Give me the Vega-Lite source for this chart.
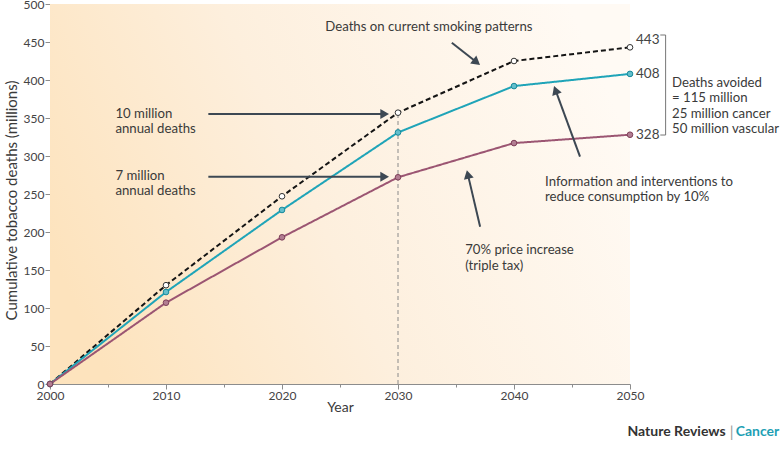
{
  "$schema": "https://vega.github.io/schema/vega-lite/v6.json",
  "width": 580,
  "height": 380,
  "autosize": {"type": "none"},
  "padding": {"left": 50, "top": 4, "right": 150, "bottom": 84},
  "config": {
    "view": {"stroke": null},
    "font": "Lato",
    "axis": {
      "labelFont": "Lato",
      "titleFont": "Lato",
      "labelColor": "#444444",
      "titleColor": "#3a3a3a",
      "domainColor": "#8c8c8c",
      "tickColor": "#8c8c8c",
      "labelFontSize": 12,
      "titleFontSize": 14,
      "titleFontWeight": "normal",
      "labelOverlap": false,
      "grid": false
    }
  },
  "datasets": {
    "deaths": [
      {"year": 2000, "scenario": "Current smoking patterns", "deaths": 0},
      {"year": 2010, "scenario": "Current smoking patterns", "deaths": 130},
      {"year": 2020, "scenario": "Current smoking patterns", "deaths": 247},
      {"year": 2030, "scenario": "Current smoking patterns", "deaths": 357},
      {"year": 2040, "scenario": "Current smoking patterns", "deaths": 425},
      {"year": 2050, "scenario": "Current smoking patterns", "deaths": 443},
      {"year": 2000, "scenario": "Information and interventions", "deaths": 0},
      {"year": 2010, "scenario": "Information and interventions", "deaths": 121},
      {"year": 2020, "scenario": "Information and interventions", "deaths": 229},
      {"year": 2030, "scenario": "Information and interventions", "deaths": 331},
      {"year": 2040, "scenario": "Information and interventions", "deaths": 392},
      {"year": 2050, "scenario": "Information and interventions", "deaths": 408},
      {"year": 2000, "scenario": "Price increase", "deaths": 0},
      {"year": 2010, "scenario": "Price increase", "deaths": 107},
      {"year": 2020, "scenario": "Price increase", "deaths": 193},
      {"year": 2030, "scenario": "Price increase", "deaths": 272},
      {"year": 2040, "scenario": "Price increase", "deaths": 317},
      {"year": 2050, "scenario": "Price increase", "deaths": 328}
    ],
    "notes": [
      {"x": 2023.73, "y": 469.7, "label": "Deaths on current smoking patterns"},
      {"x": 2005.64, "y": 355.9, "label": "10 million\nannual deaths"},
      {"x": 2005.64, "y": 273.7, "label": "7 million\nannual deaths"},
      {"x": 2035.79, "y": 176.1, "label": "70% price increase\n(triple tax)"},
      {"x": 2042.68, "y": 266.2, "label": "Information and interventions to\nreduce consumption by 10%"},
      {"x": 2053.62, "y": 396.1, "label": "Deaths avoided\n= 115 million\n25 million cancer\n50 million vascular"}
    ],
    "arrows": [
      {"x": 2034.64, "y": 449.1, "x2": 2036.78, "y2": 423.4, "angle": 128},
      {"x": 2013.65, "y": 355.3, "x2": 2028.85, "y2": 355.3, "angle": 90},
      {"x": 2013.65, "y": 272.8, "x2": 2028.85, "y2": 272.8, "angle": 90},
      {"x": 2037.08, "y": 207.0, "x2": 2036.02, "y2": 275.8, "angle": 347},
      {"x": 2045.69, "y": 299.1, "x2": 2043.58, "y2": 386.6, "angle": 340}
    ],
    "bracket": [
      {"x": 2053.07, "y": 459.2, "x2": 2053.07, "y2": 327.6},
      {"x": 2052.61, "y": 459.2, "x2": 2053.07, "y2": 459.2},
      {"x": 2052.61, "y": 327.6, "x2": 2053.07, "y2": 327.6}
    ],
    "single": [{}]
  },
  "layer": [
    {
      "data": {"name": "single"},
      "mark": {
        "type": "rect",
        "fill": {
          "gradient": "linear",
          "x1": 0, "y1": 0.65, "x2": 1, "y2": 0.35,
          "stops": [
            {"offset": 0, "color": "#fde3bd"},
            {"offset": 0.45, "color": "#fdefdd"},
            {"offset": 1, "color": "#fffaf4"}
          ]
        }
      },
      "encoding": {
        "x": {"datum": 2000, "type": "quantitative"},
        "x2": {"datum": 2050},
        "y": {"datum": 0, "type": "quantitative"},
        "y2": {"datum": 500}
      }
    },
    {
      "data": {"name": "single"},
      "mark": {"type": "rule", "color": "#8a8a8a", "strokeWidth": 1, "strokeDash": [4, 3]},
      "encoding": {
        "x": {"datum": 2030, "type": "quantitative"},
        "y": {"datum": 0, "type": "quantitative"},
        "y2": {"datum": 357}
      }
    },
    {
      "data": {"name": "deaths"},
      "mark": {"type": "line", "strokeWidth": 2},
      "encoding": {
        "x": {
          "field": "year",
          "type": "quantitative",
          "scale": {"domain": [2000, 2050], "nice": false, "zero": false},
          "axis": {
            "title": "Year",
            "values": [2000, 2005, 2010, 2015, 2020, 2025, 2030, 2035, 2040, 2045, 2050],
            "tickCount": 20,
            "format": "d",
            "labelExpr": "datum.value % 10 === 0 ? datum.label : ''",
            "tickSize": {"condition": {"test": "datum.value % 10 === 0", "value": 5}, "value": 3},
            "labelPadding": 1,
            "labelFlush": false,
            "titleX": 290,
            "titleY": 23,
            "titleBaseline": "middle",
            "titleAlign": "center"
          }
        },
        "y": {
          "field": "deaths",
          "type": "quantitative",
          "scale": {"domain": [0, 500], "nice": false},
          "axis": {
            "title": "Cumulative tobacco deaths (millions)",
            "values": [0, 50, 100, 150, 200, 250, 300, 350, 400, 450, 500],
            "tickCount": 20,
            "labelOverlap": false,
            "tickSize": 5,
            "labelPadding": 1,
            "labelFlush": false,
            "titleFontSize": 15,
            "titleX": -39,
            "titleY": 196,
            "titleAlign": "center",
            "titleBaseline": "middle",
            "titleAngle": -90
          }
        },
        "color": {
          "field": "scenario",
          "type": "nominal",
          "scale": {
            "domain": ["Current smoking patterns", "Information and interventions", "Price increase"],
            "range": ["#141414", "#1fa4b8", "#9b5572"]
          },
          "legend": null
        },
        "strokeDash": {
          "field": "scenario",
          "type": "nominal",
          "scale": {
            "domain": ["Current smoking patterns", "Information and interventions", "Price increase"],
            "range": [[5, 3], [1, 0], [1, 0]]
          },
          "legend": null
        },
        "order": {"field": "year"}
      }
    },
    {
      "data": {"name": "deaths"},
      "mark": {"type": "point", "shape": "circle", "filled": true, "size": 32, "strokeWidth": 1, "opacity": 1},
      "encoding": {
        "x": {"field": "year", "type": "quantitative"},
        "y": {"field": "deaths", "type": "quantitative"},
        "fill": {
          "field": "scenario",
          "type": "nominal",
          "scale": {
            "domain": ["Current smoking patterns", "Information and interventions", "Price increase"],
            "range": ["#ffffff", "#62bfcc", "#b27d92"]
          },
          "legend": null
        },
        "stroke": {
          "field": "scenario",
          "type": "nominal",
          "scale": {
            "domain": ["Current smoking patterns", "Information and interventions", "Price increase"],
            "range": ["#333333", "#17899b", "#7e4059"]
          },
          "legend": null
        }
      }
    },
    {
      "data": {"name": "deaths"},
      "transform": [{"filter": "datum.year === 2050 && datum.deaths < 440"}],
      "mark": {"type": "text", "align": "left", "baseline": "middle", "dx": 6, "fontSize": 13.5, "color": "#444444"},
      "encoding": {
        "x": {"field": "year", "type": "quantitative"},
        "y": {"field": "deaths", "type": "quantitative"},
        "text": {"field": "deaths", "type": "quantitative"}
      }
    },
    {
      "data": {"name": "deaths"},
      "transform": [{"filter": "datum.year === 2050 && datum.deaths >= 440"}],
      "mark": {"type": "text", "align": "left", "baseline": "middle", "dx": 6, "dy": -7, "fontSize": 13.5, "color": "#444444"},
      "encoding": {
        "x": {"field": "year", "type": "quantitative"},
        "y": {"field": "deaths", "type": "quantitative"},
        "text": {"field": "deaths", "type": "quantitative"}
      }
    },
    {
      "data": {"name": "bracket"},
      "mark": {"type": "rule", "color": "#777777", "strokeWidth": 1},
      "encoding": {
        "x": {"field": "x", "type": "quantitative"},
        "y": {"field": "y", "type": "quantitative"},
        "x2": {"field": "x2"},
        "y2": {"field": "y2"}
      }
    },
    {
      "data": {"name": "arrows"},
      "mark": {"type": "rule", "color": "#3d4853", "strokeWidth": 2},
      "encoding": {
        "x": {"field": "x", "type": "quantitative"},
        "y": {"field": "y", "type": "quantitative"},
        "x2": {"field": "x2"},
        "y2": {"field": "y2"}
      }
    },
    {
      "data": {"name": "arrows"},
      "mark": {"type": "point", "shape": "triangle-up", "filled": true, "size": 100, "color": "#3d4853", "opacity": 1},
      "encoding": {
        "x": {"field": "x2", "type": "quantitative"},
        "y": {"field": "y2", "type": "quantitative"},
        "angle": {"field": "angle", "type": "quantitative", "scale": null}
      }
    },
    {
      "data": {"name": "notes"},
      "mark": {"type": "text", "align": "left", "baseline": "middle", "lineBreak": "\n", "lineHeight": 15.5, "fontSize": 13.2, "color": "#3a3a3a"},
      "encoding": {
        "x": {"field": "x", "type": "quantitative"},
        "y": {"field": "y", "type": "quantitative"},
        "text": {"field": "label", "type": "nominal"}
      }
    },
    {
      "data": {"name": "single"},
      "mark": {"type": "text", "align": "right", "baseline": "middle", "fontSize": 14, "fontWeight": "bold", "color": "#333333"},
      "encoding": {
        "x": {"datum": 2058.24, "type": "quantitative"},
        "y": {"datum": -63.2, "type": "quantitative"},
        "text": {"value": "Nature Reviews"}
      }
    },
    {
      "data": {"name": "single"},
      "mark": {"type": "text", "align": "center", "baseline": "middle", "fontSize": 15, "color": "#999999"},
      "encoding": {
        "x": {"datum": 2058.76, "type": "quantitative"},
        "y": {"datum": -63.2, "type": "quantitative"},
        "text": {"value": "|"}
      }
    },
    {
      "data": {"name": "single"},
      "mark": {"type": "text", "align": "left", "baseline": "middle", "fontSize": 14, "fontWeight": "bold", "color": "#1e9fb4"},
      "encoding": {
        "x": {"datum": 2059.11, "type": "quantitative"},
        "y": {"datum": -63.2, "type": "quantitative"},
        "text": {"value": "Cancer"}
      }
    }
  ]
}
